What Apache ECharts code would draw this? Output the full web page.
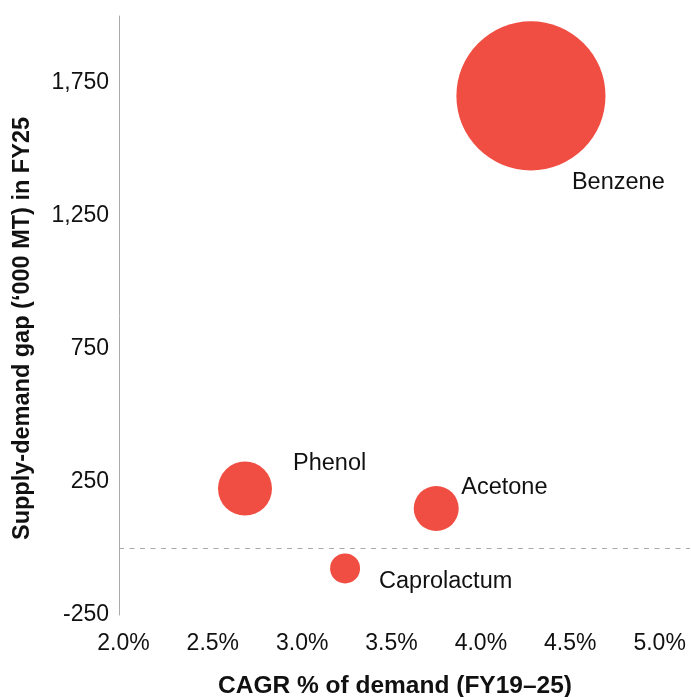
<!DOCTYPE html>
<html>
<head>
<meta charset="utf-8">
<script src="https://cdn.jsdelivr.net/npm/echarts@6/dist/echarts.min.js"></script>
<style>
html,body{margin:0;padding:0;background:#fff;}
#chart{width:691px;height:697px;}
</style>
</head>
<body>
<div id="chart"></div>
<script>
// Data
const products = ['Benzene', 'Phenol', 'Acetone', 'Caprolactum'];
const cagrPct = [4.28, 2.68, 3.75, 3.24];          // CAGR % of demand (FY19–25)
const gapKMT = [1700, 225, 150, -75];              // Supply-demand gap ('000 MT) in FY25
const bubbleSize = [2470, 324, 225, 100];          // relative bubble size
const xTicks = [2.0, 2.5, 3.0, 3.5, 4.0, 4.5, 5.0];
const yTicks = [-250, 250, 750, 1250, 1750];

// Label placement (style only)
const labelOffsets = {
  'Benzene': [41, 87],
  'Phenol': [48, -25],
  'Acetone': [25, -21],
  'Caprolactum': [34, 13]
};

const FONT = '"Liberation Sans", Arial, Helvetica, sans-serif';

const seriesData = products.map((p, i) => ({
  name: p,
  value: [cagrPct[i], gapKMT[i], bubbleSize[i]],
  label: { offset: labelOffsets[p] }
}));

const chart = echarts.init(document.getElementById('chart'), null, { renderer: 'canvas' });
chart.setOption({
  animation: false,
  backgroundColor: '#ffffff',
  grid: { left: 119, right: 1, top: 16, bottom: 82, containLabel: false, outerBoundsMode: 'none' },
  xAxis: {
    type: 'value',
    min: 1.975,
    max: 5.17,
    name: 'CAGR % of demand (FY19–25)',
    nameLocation: 'middle',
    nameGap: 59,
    nameTextStyle: { fontFamily: FONT, fontSize: 24.5, fontWeight: 'bold', color: '#111', padding: [0, 19, 0, 0] },
    axisLine: { show: false },
    axisTick: { show: false },
    splitLine: { show: false },
    axisLabel: {
      customValues: xTicks,
      formatter: v => v.toFixed(1) + '%',
      fontFamily: FONT, fontSize: 23, color: '#111', margin: 17
    }
  },
  yAxis: {
    type: 'value',
    min: -250,
    max: 2000,
    name: 'Supply-demand gap (‘000 MT) in FY25',
    nameLocation: 'middle',
    nameGap: 84,
    nameTextStyle: { fontFamily: FONT, fontSize: 23.5, fontWeight: 'bold', color: '#111', padding: [0, 26, 0, 0] },
    axisLine: { show: true, lineStyle: { color: '#aaaaaa', width: 1 } },
    axisTick: { show: false },
    splitLine: { show: false },
    axisLabel: {
      customValues: yTicks,
      formatter: v => v.toLocaleString('en-US'),
      fontFamily: FONT, fontSize: 23, color: '#111', margin: 10
    }
  },
  series: [{
    type: 'scatter',
    data: seriesData,
    symbolSize: v => Math.sqrt(v[2]) * 3,
    itemStyle: { color: '#F14E43', opacity: 1 },
    label: {
      show: true,
      formatter: p => p.name,
      position: 'inside',
      align: 'left',
      verticalAlign: 'middle',
      fontFamily: FONT,
      fontSize: 23.5,
      color: '#111'
    },
    markLine: {
      silent: true,
      symbol: 'none',
      label: { show: false },
      lineStyle: { type: [5, 5.5], color: '#aaaaaa', width: 1.2 },
      data: [{ yAxis: 0 }]
    }
  }]
});
</script>
</body>
</html>
